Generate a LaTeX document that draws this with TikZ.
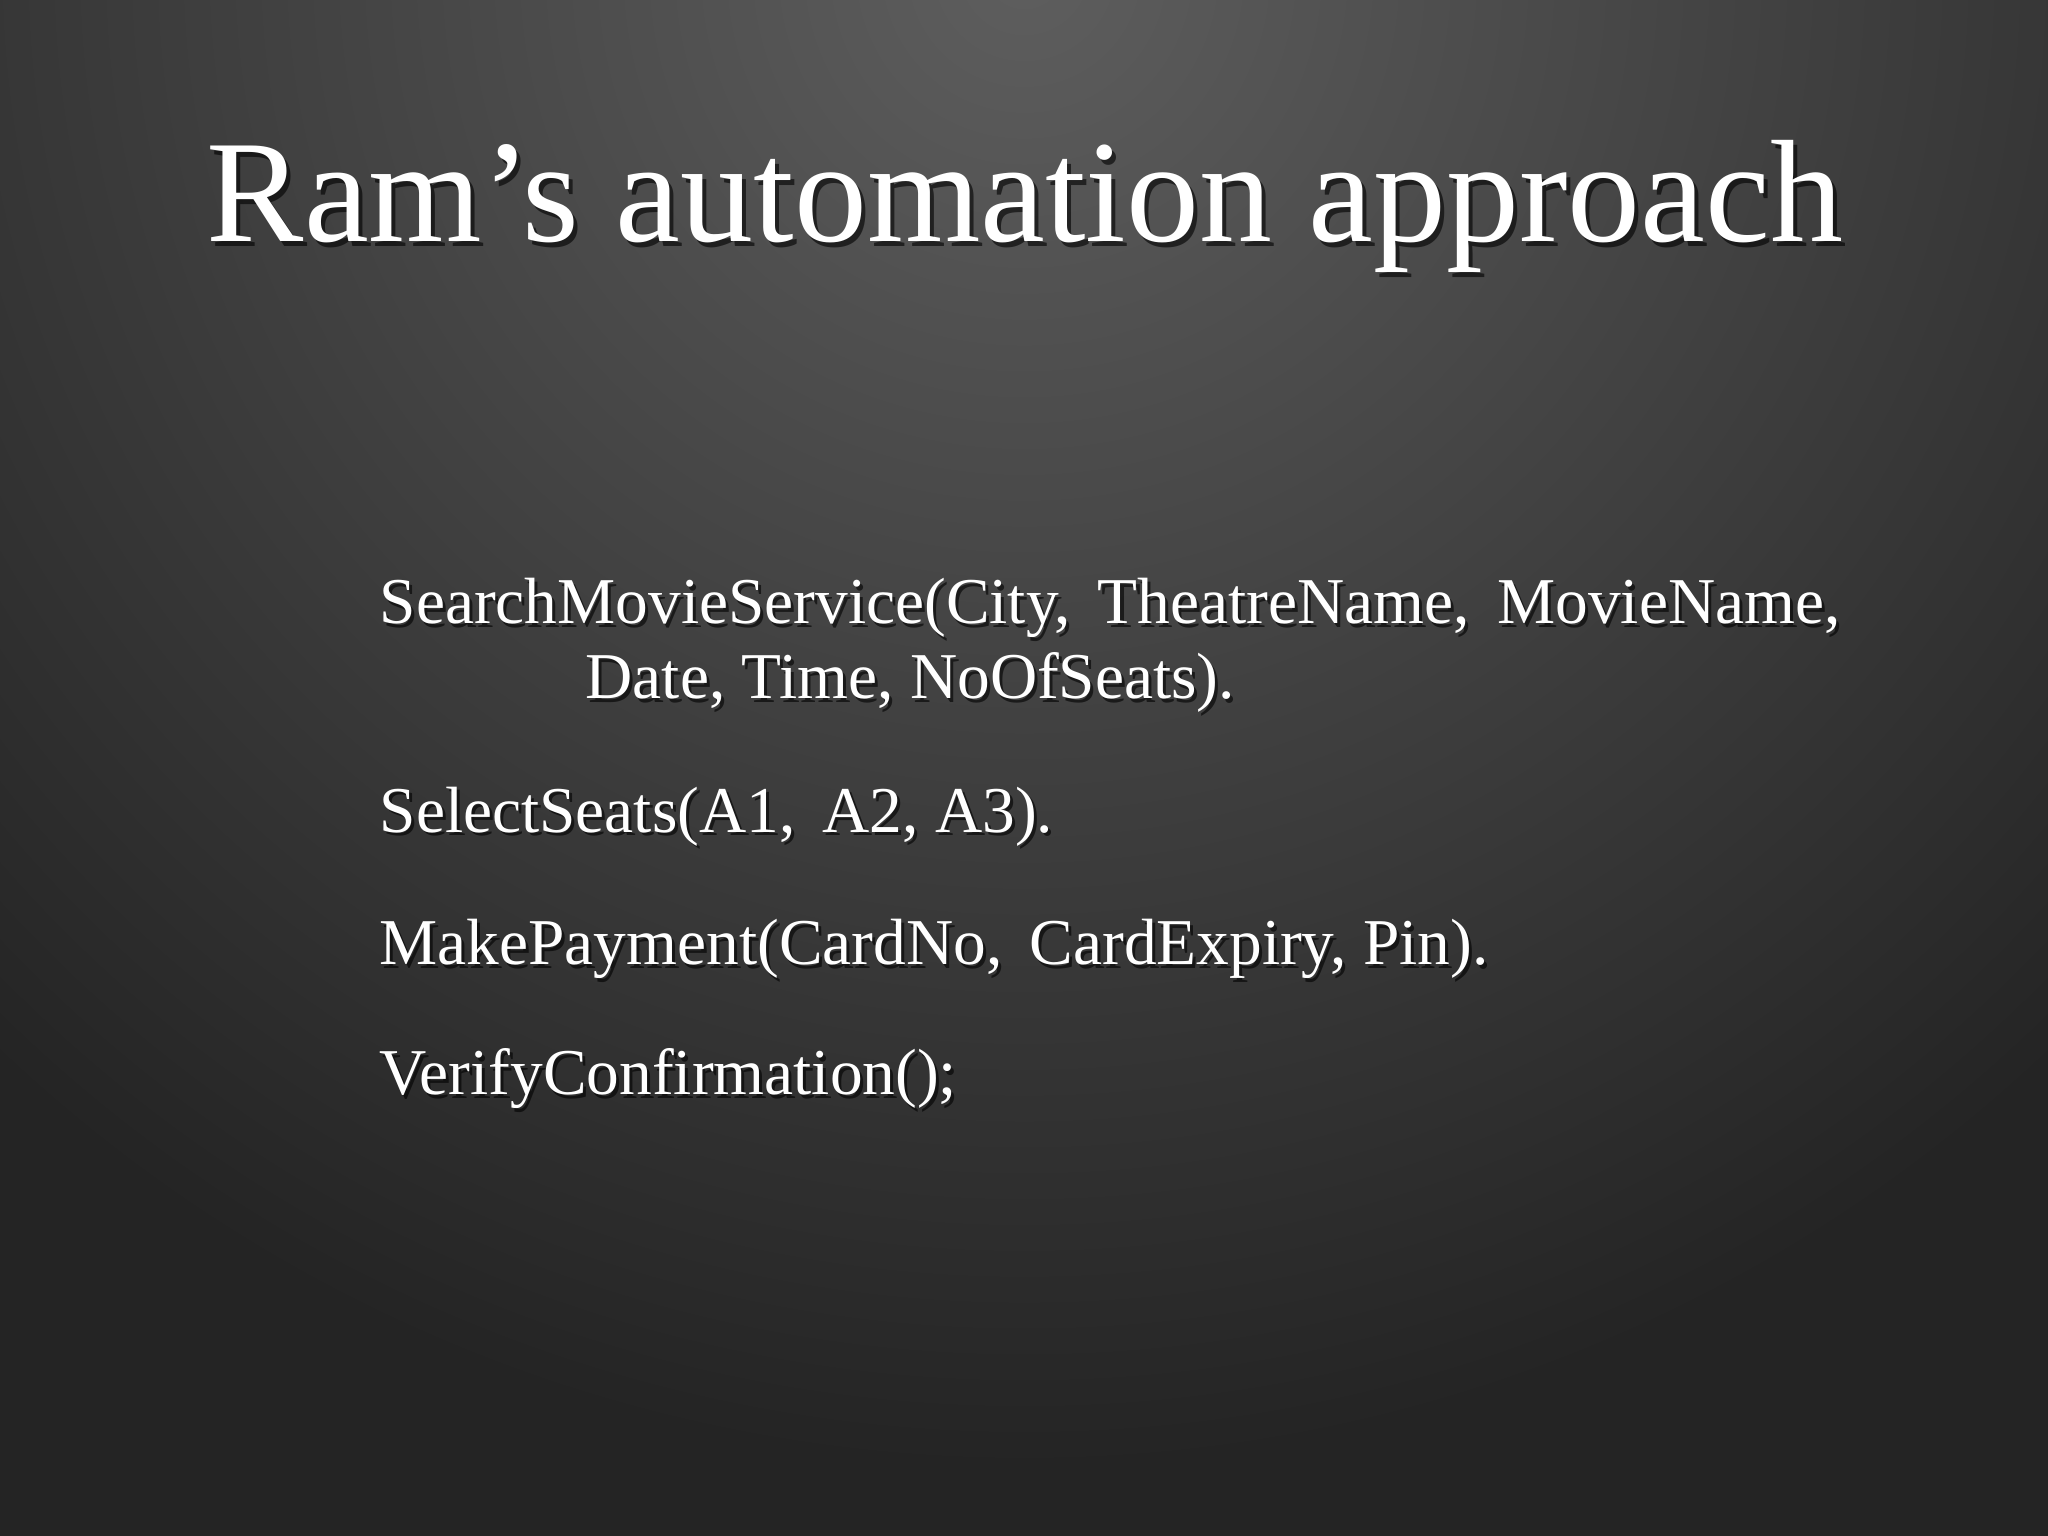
\documentclass[tikz,border=0pt]{standalone}
\usepackage{fontspec}
\setmainfont{Liberation Serif}
\begin{document}
\begin{tikzpicture}[x=1cm,y=1cm,
  body/.style={anchor=base west,text=white,font=\fontsize{18.6}{23}\selectfont,inner sep=0pt},
  shadowtxt/.style={anchor=base west,text=black,opacity=0.6,font=\fontsize{18.6}{23}\selectfont,inner sep=0pt}]
\definecolor{bgtop}{HTML}{5E5E5E}
\definecolor{bgbot}{HTML}{242424}
\useasboundingbox (0,0) rectangle (20.48,-15.36);
\fill[bgbot] (0,0) rectangle (20.48,-15.36);
\begin{scope}
\clip (0,0) rectangle (20.48,-15.36);
\shade[inner color=bgtop, outer color=bgbot] (10.24,0.3) circle (15);
\end{scope}
\node[anchor=base,text=black,opacity=0.6,font=\fontsize{41.5}{48}\selectfont,inner sep=0pt] at (10.29,-2.47) {Ram’s automation approach};
\node (title) [anchor=base,text=white,font=\fontsize{41.5}{48}\selectfont,inner sep=0pt] at (10.25,-2.42) {Ram’s automation approach};
\foreach \nm/\x/\y/\t in {l1/3.79/6.24/{SearchMovieService(City,\,\ TheatreName,\,\ MovieName,},
  l2/5.85/6.99/{Date, Time, NoOfSeats).},
  l3/3.79/8.32/{SelectSeats(A1,\,\ A2, A3).},
  l4/3.79/9.64/{MakePayment(CardNo,\,\ CardExpiry, Pin).},
  l5/3.79/10.94/{VerifyConfirmation();}}{
  \node[shadowtxt] at (\x+0.03,-\y-0.04) {\t};
  \node (\nm) [body] at (\x,-\y) {\t};
}
\end{tikzpicture}
\end{document}
